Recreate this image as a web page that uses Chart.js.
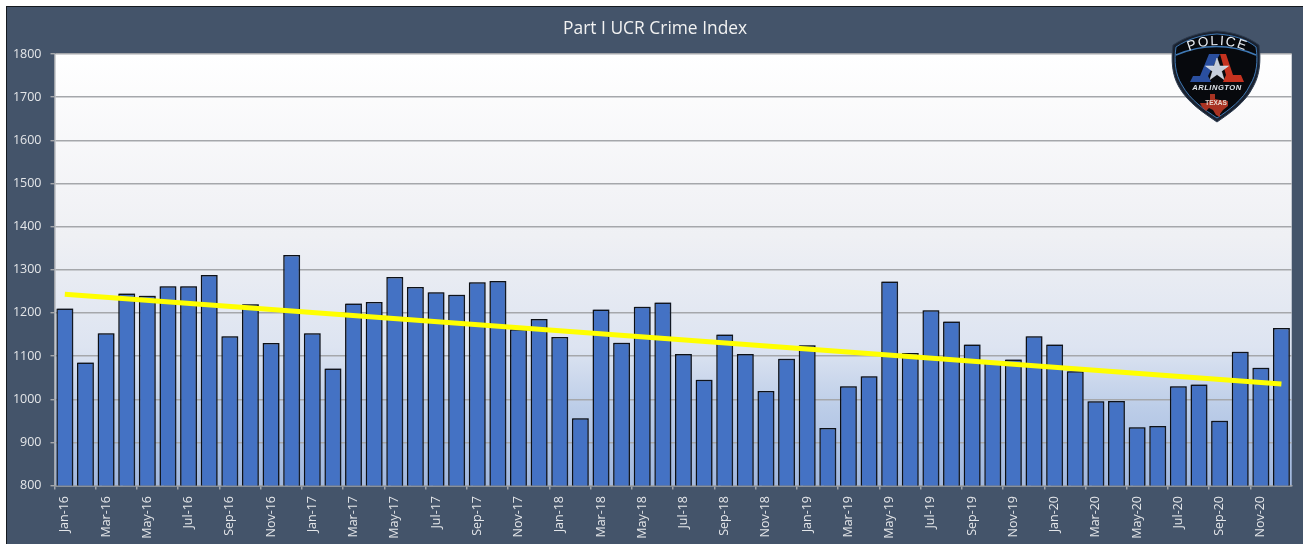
<!DOCTYPE html>
<html>
<head>
<meta charset="utf-8">
<title>Part I UCR Crime Index</title>
<script src="https://cdn.jsdelivr.net/npm/chart.js@4"></script>
<style>
html,body{margin:0;padding:0;background:#fff;width:1303px;height:544px;overflow:hidden}
#panel{position:absolute;left:6px;top:6px;width:1297px;height:538px;background:#44546a;box-sizing:border-box;border-left:1px solid #15191f;border-top:1px solid #15191f}
#wrap{position:absolute;left:0;top:0;width:1303px;height:544px}
#logo{position:absolute;left:1160px;top:25px;width:110px;height:100px;filter:blur(0.5px)}
</style>
</head>
<body>
<div id="panel"></div>
<div id="wrap"><canvas id="c" width="1303" height="544"></canvas></div>
<svg id="logo" viewBox="0 0 110 100" xmlns="http://www.w3.org/2000/svg">
  <defs><path id="arc" d="M20 30 Q57 10 95 30"/></defs>
  <path d="M57 6 C40 7 25 12 13 20 C11 35 12 50 19 62 C28 78 44 88 57 97 C70 88 85 78 93 62 C100 50 101 35 99 20 C88 12 74 7 57 6 Z" fill="#1a2230" stroke="#2d3c50" stroke-width="1"/>
  <path d="M57 9 C41 10 28 14 16 22 C14 36 15 49 22 60 C30 75 45 85 57 93 C69 85 83 75 90 60 C97 49 98 36 96 22 C86 14 73 10 57 9 Z" fill="#07090d" stroke="#3f79b5" stroke-width="1"/>
  <path d="M16 30 Q57 13 96 30" fill="none" stroke="#3f79b5" stroke-width="1.4"/>
  <text font-family="Liberation Sans" font-size="13.5" letter-spacing="1.6" fill="#e8edf3"><textPath href="#arc" startOffset="50%" text-anchor="middle">POLICE</textPath></text>
  <polygon points="49,29 60,29 52,43 48,51 51,57 30,57 33,51 40,51" fill="#2a4f9f"/>
  <polygon points="60,29 66,29 73,50 81,50 84,57 63,57 66,50" fill="#c5321f"/>
  <polygon points="57,33 59.8,41 68.5,41 61.5,46.2 64,54.5 57,49.5 50,54.5 52.5,46.2 45.5,41 54.2,41" fill="#c6cedb" stroke="#eef2f6" stroke-width=".5"/>
  <text x="57" y="65" text-anchor="middle" font-family="Liberation Sans" font-weight="bold" font-style="italic" font-size="7.6" letter-spacing=".5" fill="#dfe4ea">ARLINGTON</text>
  <polygon points="50,69 55,69 55,74 60,75 68,76 68,81 63,85 60,89 60,92 56,90 53,85 49,83 46,86 42,82 40,78 48,78 50,75" fill="#a93322"/>
  <text x="56" y="80" text-anchor="middle" font-family="Liberation Sans" font-weight="bold" font-size="6.5" fill="#e6d5cc">TEXAS</text>
</svg>
<script>
const categories = ["Jan-16","Feb-16","Mar-16","Apr-16","May-16","Jun-16","Jul-16","Aug-16","Sep-16","Oct-16","Nov-16","Dec-16",
"Jan-17","Feb-17","Mar-17","Apr-17","May-17","Jun-17","Jul-17","Aug-17","Sep-17","Oct-17","Nov-17","Dec-17",
"Jan-18","Feb-18","Mar-18","Apr-18","May-18","Jun-18","Jul-18","Aug-18","Sep-18","Oct-18","Nov-18","Dec-18",
"Jan-19","Feb-19","Mar-19","Apr-19","May-19","Jun-19","Jul-19","Aug-19","Sep-19","Oct-19","Nov-19","Dec-19",
"Jan-20","Feb-20","Mar-20","Apr-20","May-20","Jun-20","Jul-20","Aug-20","Sep-20","Oct-20","Nov-20","Dec-20"];
const crimeIndex = [1210,1085,1153,1245,1240,1262,1262,1288,1146,1220,1130,1334,
1153,1071,1222,1225,1283,1260,1248,1242,1271,1274,1162,1186,
1144,956,1208,1131,1214,1224,1105,1045,1150,1105,1019,1094,
1125,933,1030,1053,1273,1107,1206,1180,1127,1085,1092,1146,
1127,1065,995,996,935,938,1030,1034,950,1110,1073,1165];
const trendFirst = 1243;
const trendLast = 1035;
const trendLine = categories.map((c, i) => i === 0 ? trendFirst : (i === categories.length - 1 ? trendLast : null));
const chartTitle = "Part I UCR Crime Index";
const yMin = 800, yMax = 1800, yStep = 100;

const plotBackground = {
  id: 'plotBackground',
  beforeDraw(chart) {
    const {ctx, chartArea: a} = chart;
    const g = ctx.createLinearGradient(0, a.top, 0, a.bottom);
    g.addColorStop(0, '#ffffff');
    g.addColorStop(0.42, '#eff0f4');
    g.addColorStop(0.68, '#dde4f1');
    g.addColorStop(0.82, '#bccde8');
    g.addColorStop(1, '#a0b7de');
    ctx.fillStyle = g;
    ctx.fillRect(a.left, a.top, a.right - a.left, a.bottom - a.top);
  },
  beforeDatasetDraw(chart, args) {
    if (args.index === 0) {
      const c = chart.ctx;
      c.save();
      c.shadowColor = 'rgba(30,40,60,0.55)';
      c.shadowOffsetX = 1;
      c.shadowOffsetY = -0.5;
      c.shadowBlur = 1;
    }
  },
  afterDatasetDraw(chart, args) {
    if (args.index === 0) chart.ctx.restore();
  }
};

new Chart(document.getElementById('c'), {
  type: 'bar',
  data: {
    labels: categories,
    datasets: [
      {type: 'bar', label: 'Part I UCR', data: crimeIndex, order: 2,
       backgroundColor: '#4472c4', borderColor: '#0c0f14', borderWidth: 1.5,
       categoryPercentage: 1, barPercentage: 0.82},
      {type: 'line', label: 'Trend', data: trendLine, order: 1, spanGaps: true,
       borderColor: '#ffff00', borderWidth: 5, pointRadius: 0, tension: 0, borderCapStyle: 'butt'}
    ]
  },
  options: {
    responsive: false,
    animation: false,
    layout: {autoPadding: false, padding: {left: 17, right: 9.7, top: 18, bottom: 0}},
    plugins: {
      legend: {display: false},
      tooltip: {enabled: false},
      title: {display: true, text: chartTitle, color: '#f2f2f2',
        font: {family: 'Open Sans', size: 17.4, weight: 'normal', lineHeight: 1.25},
        padding: {top: 0, bottom: 14.25}}
    },
    scales: {
      x: {
        offset: true,
        afterFit(s) { s.height = 58.5; },
        border: {color: '#a0a4aa', width: 1.5},
        grid: {drawOnChartArea: false, offset: true, tickLength: 4, lineWidth: 1.5,
          tickColor: ctx => (ctx.index % 2 === 0 ? '#a0a4aa' : 'rgba(0,0,0,0)')},
        ticks: {autoSkip: false, minRotation: 90, maxRotation: 90, padding: 6.5, color: '#e4e6e9',
          font: {family: 'Open Sans', size: 12.5},
          callback(v, i) { return i % 2 === 0 ? this.getLabelForValue(v) : ''; }}
      },
      y: {
        min: yMin, max: yMax,
        afterFit(s) { s.width = 37.5; s._computeLabelArea = () => null; },
        border: {color: '#a0a4aa', width: 1.5},
        grid: {color: '#a5a7ab', lineWidth: 1.4, tickLength: 4},
        ticks: {stepSize: yStep, padding: 9, color: '#e4e6e9',
          font: {family: 'Open Sans', size: 12.5},
          callback(v) { return String(v); }}
      }
    }
  },
  plugins: [plotBackground]
});
</script>
</body>
</html>
